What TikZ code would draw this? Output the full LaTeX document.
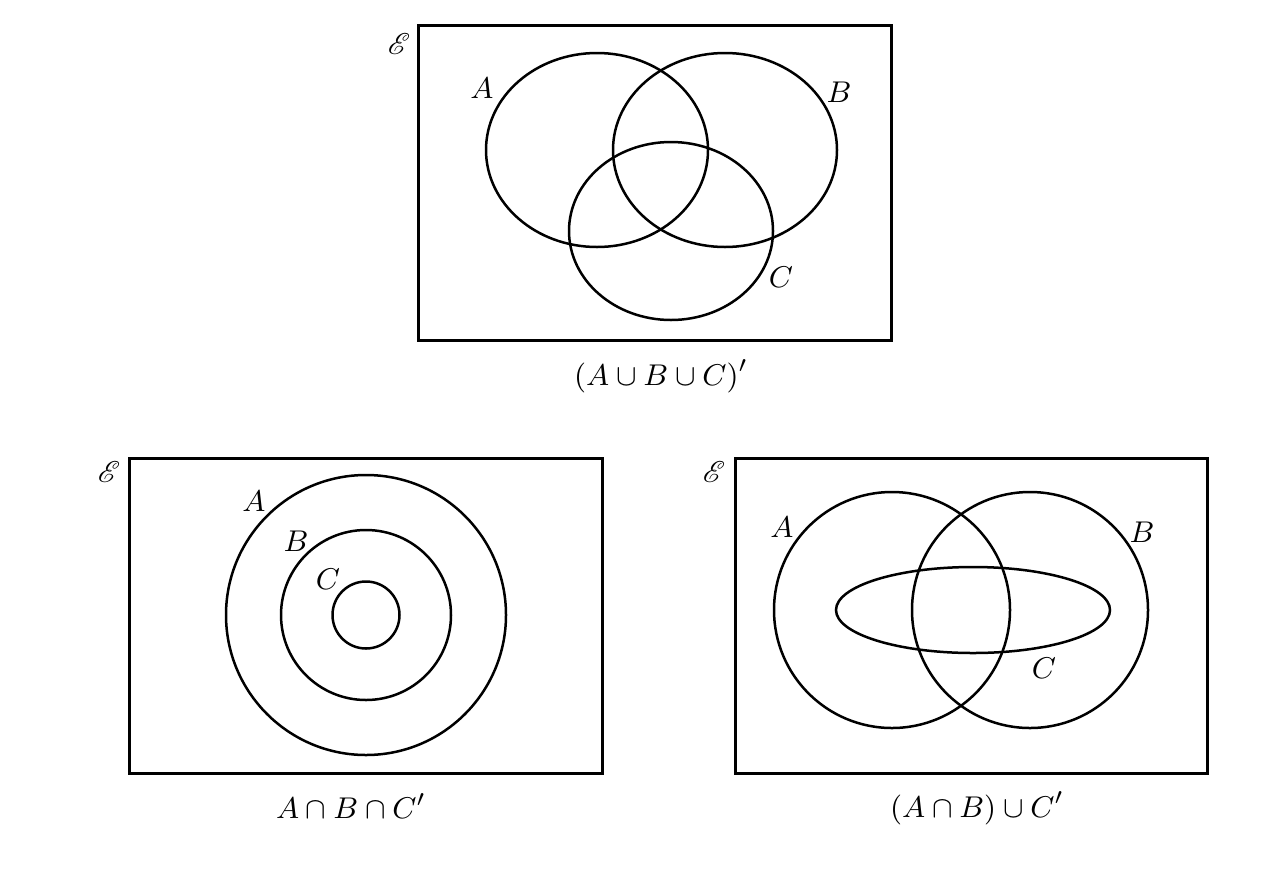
\documentclass[tikz,border=0pt]{standalone}
\usepackage{mathrsfs}
\usetikzlibrary{positioning}

\begin{document}
\begin{tikzpicture}[
  x=0.3pt, y=-0.3pt,
  every node/.style={font=\fontsize{9.5}{11}\selectfont},
  universe/.style={draw, line width=0.9pt},
  setline/.style={draw, line width=0.75pt},
  setlabel/.style={inner sep=0pt},
  caption/.style={inner sep=0pt},
]
\useasboundingbox (0,0) rectangle (1288,869);

% top: complement of the union
\draw[universe] (418,25) rectangle (891,340);
\node (uni1) [setlabel] at (399,44) {$\mathscr{E}$};
\draw[setline] (597,150) ellipse [x radius=111, y radius=97];
\draw[setline] (725,150) ellipse [x radius=112, y radius=97];
\draw[setline] (671,231) ellipse [x radius=102, y radius=89];
\node (a1) [setlabel] at (482,88) {$A$};
\node (b1) [setlabel] at (839,92) {$B$};
\node (c1) [setlabel] at (781,277) {$C$};
\node (cap1) [caption] at (661,376) {$(A \cup B \cup C)'$};

% bottom left: nested sets
\draw[universe] (129,458) rectangle (602,773);
\node (uni2) [setlabel] at (109,472) {$\mathscr{E}$};
\foreach \r in {140,85,33.5} {
  \draw[setline] (366,615) circle [radius=\r];
}
\node (a2) [setlabel] at (254,501) {$A$};
\node (b2) [setlabel] at (296,541) {$B$};
\node (c2) [setlabel] at (328,579) {$C$};
\node (cap2) [caption] at (351,806) {$A \cap B \cap C'$};

% bottom right
\draw[universe] (735,458) rectangle (1207,773);
\node (uni3) [setlabel] at (714,472) {$\mathscr{E}$};
\draw[setline] (892,610) circle [radius=118];
\draw[setline] (1030,610) circle [radius=118];
\draw[setline] (973,610) ellipse [x radius=137, y radius=43];
\node (a3) [setlabel] at (782,527) {$A$};
\node (b3) [setlabel] at (1142,532) {$B$};
\node (c3) [setlabel] at (1044,668) {$C$};
\node (cap3) [caption] at (977,808) {$(A \cap B) \cup C'$};

\end{tikzpicture}
\end{document}
